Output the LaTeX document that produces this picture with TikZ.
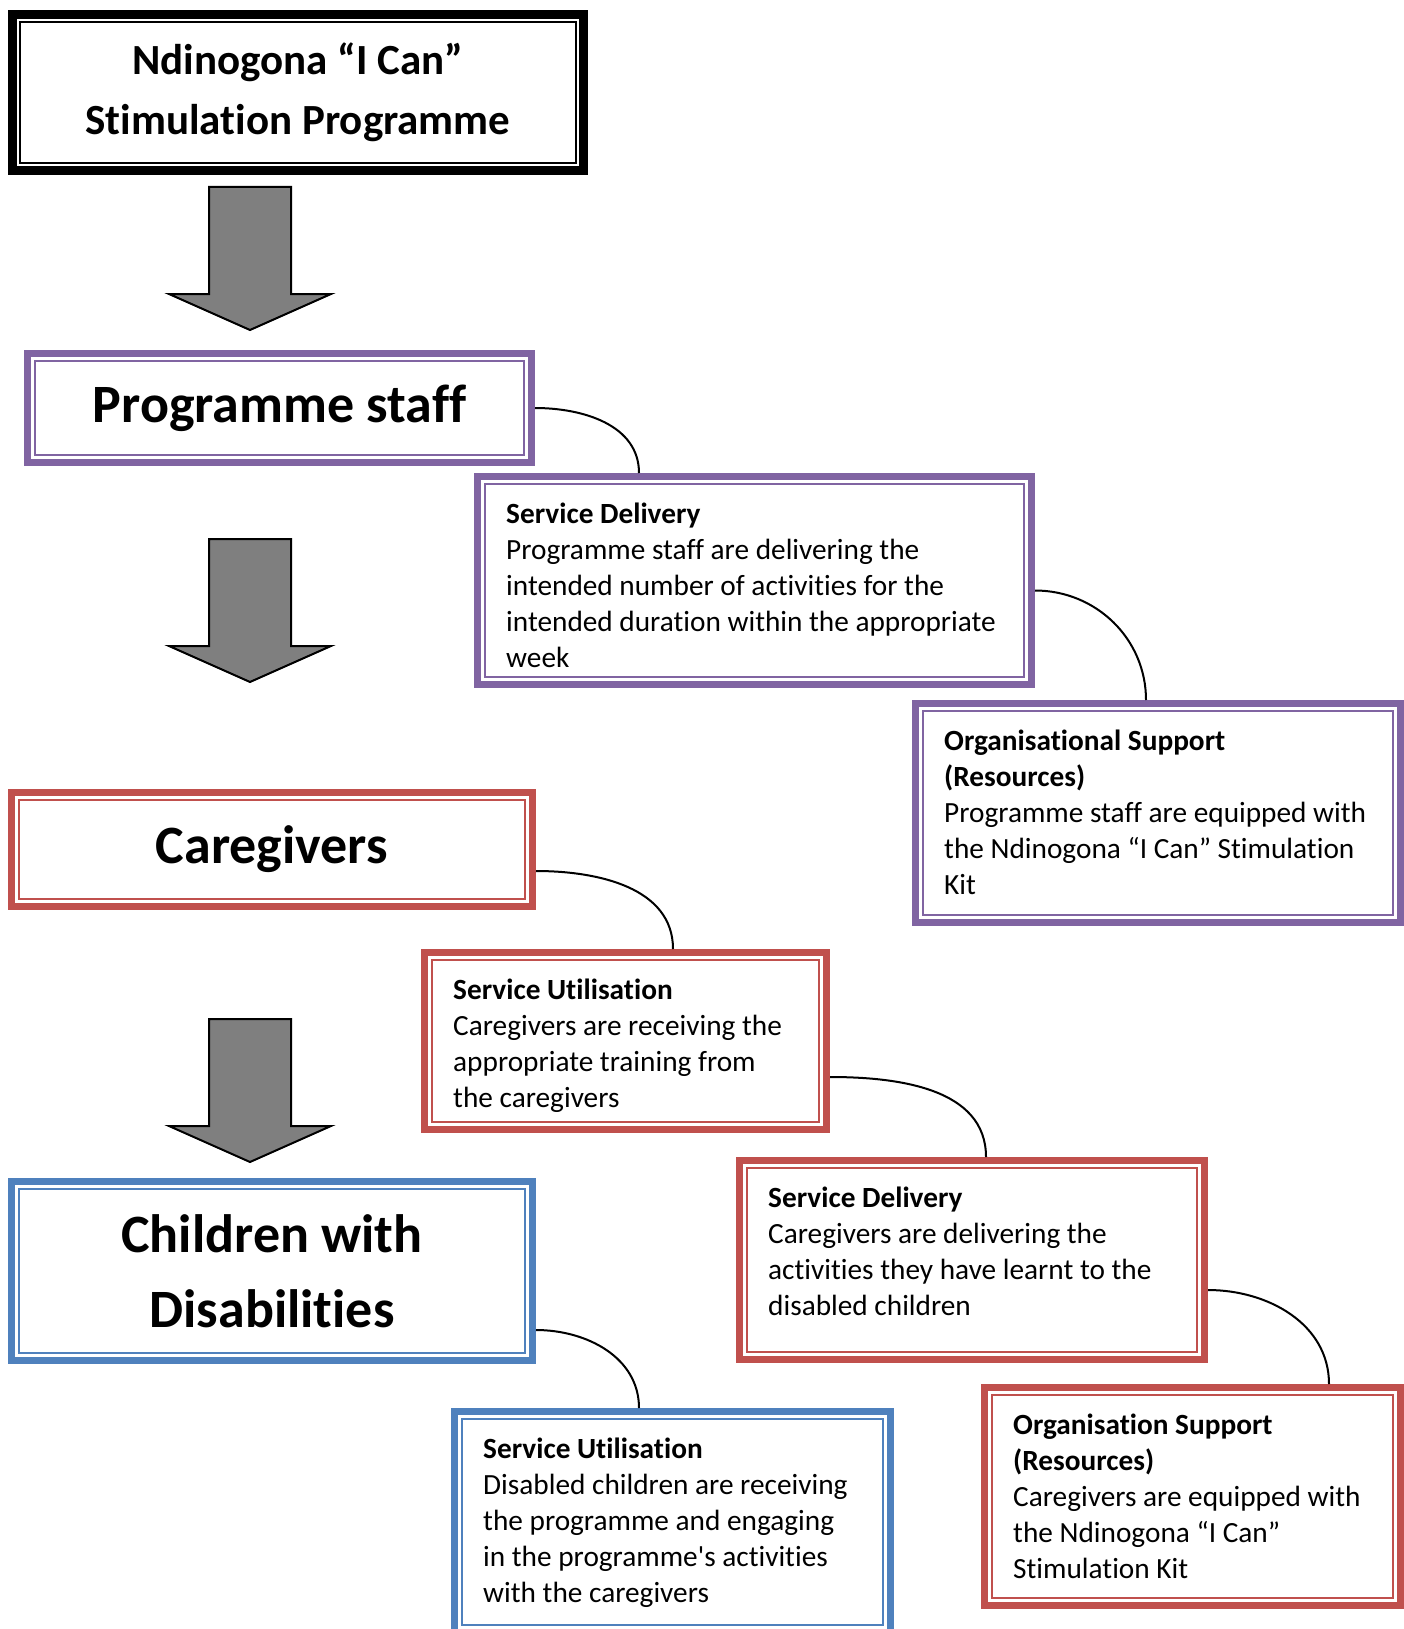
\documentclass[tikz,border=0pt]{standalone}
\usepackage{fontspec}
\setmainfont{Carlito}[Ligatures={TeX,NoCommon}]

\definecolor{staffpurple}{HTML}{8064A2}
\definecolor{carered}{HTML}{C0504D}
\definecolor{childblue}{HTML}{4F81BD}
\definecolor{arrowgray}{HTML}{7F7F7F}

\begin{document}
\begin{tikzpicture}[x=1pt, y=1pt,
  frame/.style={draw=#1, line width=7pt, fill=white,
    path picture={\draw[#1, line width=2pt]
      ([shift={(7.5pt,7.5pt)}]path picture bounding box.south west) rectangle
      ([shift={(-7.5pt,-7.5pt)}]path picture bounding box.north east);}},
  level/.style={frame=#1, align=center, font=\fontsize{54}{75}\selectfont\bfseries},
  detailtext/.style={anchor=north west, align=left, inner sep=0pt, font=\fontsize{29.3}{36}\selectfont},
  link/.style={line width=2pt},
  blockarrow/.style={fill=arrowgray, draw=black, line width=2pt, line join=miter}]

\useasboundingbox (0,0) rectangle (1404,-1629);

% title
\node[frame=black, line width=9pt, minimum width=571pt, minimum height=156pt,
  align=center, font=\fontsize{43}{60}\selectfont\bfseries] (ttl) at (298,-92.5)
  {Ndinogona “I Can”\\Stimulation Programme};

% big arrows
\foreach \t in {187,539,1019}
  \draw[blockarrow] (209,-\t) -- ++(82,0) -- ++(0,-107) -- ++(40,0) -- ++(-81,-36)
    -- ++(-81,36) -- ++(40,0) -- cycle;

% levels
\node[level=staffpurple, minimum width=504pt, minimum height=109pt] (ps) at (279.5,-408) {Programme staff};
\node[level=carered, minimum width=521pt, minimum height=114pt] (cg) at (272,-849.5) {Caregivers};
\node[level=childblue, minimum width=521pt, minimum height=179pt] (cwd) at (272,-1271) {Children with\\Disabilities};

% programme staff
\node[frame=staffpurple, minimum width=554pt, minimum height=208pt] (sd1) at (754.5,-580.5) {};
\node[detailtext] (sd1txt) at ([shift={(32pt,-30pt)}]sd1.north west)
  {\textbf{Service Delivery}\\Programme staff are delivering the\\intended number of activities for the\\intended duration within the appropriate\\week};
\node[frame=staffpurple, minimum width=485pt, minimum height=219pt] (org1) at (1158,-813) {};
\node[detailtext] (org1txt) at ([shift={(32pt,-30pt)}]org1.north west)
  {\textbf{Organisational Support}\\\textbf{(Resources)}\\Programme staff are equipped with\\the Ndinogona “I Can” Stimulation\\Kit};

% caregivers
\node[frame=carered, minimum width=402pt, minimum height=177pt] (su1) at (625.5,-1041) {};
\node[detailtext] (su1txt) at ([shift={(32pt,-30pt)}]su1.north west)
  {\textbf{Service Utilisation}\\Caregivers are receiving the\\appropriate training from\\the caregivers};
\node[frame=carered, minimum width=465pt, minimum height=199pt] (sd2) at (972,-1260) {};
\node[detailtext] (sd2txt) at ([shift={(32pt,-30pt)}]sd2.north west)
  {\textbf{Service Delivery}\\Caregivers are delivering the\\activities they have learnt to the\\disabled children};
\node[frame=carered, minimum width=416pt, minimum height=218pt] (org2) at (1192.5,-1496.5) {};
\node[detailtext] (org2txt) at ([shift={(32pt,-30pt)}]org2.north west)
  {\textbf{Organisation Support}\\\textbf{(Resources)}\\Caregivers are equipped with\\the Ndinogona “I Can”\\Stimulation Kit};

% children
\node[frame=childblue, minimum width=436pt, minimum height=221pt] (su2) at (672.5,-1522) {};
\node[detailtext] (su2txt) at ([shift={(32pt,-30pt)}]su2.north west)
  {\textbf{Service Utilisation}\\Disabled children are receiving\\the programme and engaging\\in the programme\textquotesingle s activities\\with the caregivers};

% links
\foreach \a/\dy/\b/\dx in {ps/0/sd1/165, sd1/10/org1/234, cg/21.5/su1/252,
                           su1/36/sd2/250, sd2/30/org2/348, cwd/59/su2/188}
  \draw[link] ([yshift=-\dy pt]\a.east) to[out=0,in=90] ([xshift=\dx pt]\b.north west);

\end{tikzpicture}
\end{document}
